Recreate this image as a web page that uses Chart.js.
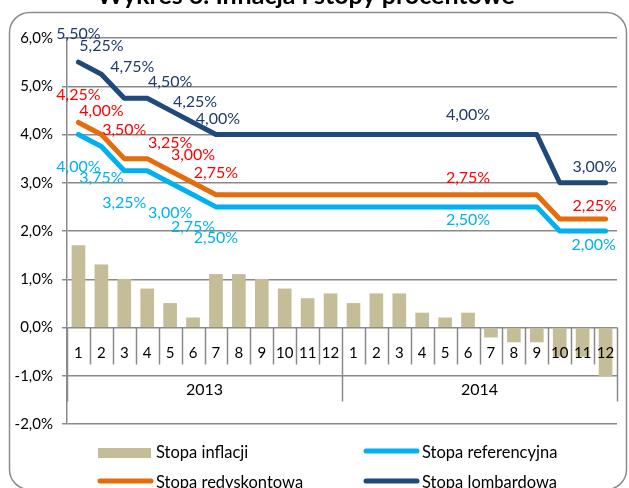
<!DOCTYPE html>
<html>
<head>
<meta charset="utf-8">
<script src="https://cdn.jsdelivr.net/npm/chart.js@4.4.1/dist/chart.umd.min.js"></script>
<style>
  html, body { margin: 0; padding: 0; background: #fff; }
  #wrap { position: relative; width: 629px; height: 488px; }
</style>
</head>
<body>
<div id="wrap"><canvas id="chart"></canvas></div>
<script>
// Data
const months = ['1','2','3','4','5','6','7','8','9','10','11','12',
                '1','2','3','4','5','6','7','8','9','10','11','12'];
const years = ['2013', '2014'];
const inflation = [1.7, 1.3, 1.0, 0.8, 0.5, 0.2, 1.1, 1.1, 1.0, 0.8, 0.6, 0.7,
                   0.5, 0.7, 0.7, 0.3, 0.2, 0.3, -0.2, -0.3, -0.3, -0.6, -0.6, -1.0];
const refRate = [4.00, 3.75, 3.25, 3.25, 3.00, 2.75, 2.50, 2.50, 2.50, 2.50, 2.50, 2.50,
                 2.50, 2.50, 2.50, 2.50, 2.50, 2.50, 2.50, 2.50, 2.50, 2.00, 2.00, 2.00];
const rediscRate = [4.25, 4.00, 3.50, 3.50, 3.25, 3.00, 2.75, 2.75, 2.75, 2.75, 2.75, 2.75,
                    2.75, 2.75, 2.75, 2.75, 2.75, 2.75, 2.75, 2.75, 2.75, 2.25, 2.25, 2.25];
const lombardRate = [5.50, 5.25, 4.75, 4.75, 4.50, 4.25, 4.00, 4.00, 4.00, 4.00, 4.00, 4.00,
                     4.00, 4.00, 4.00, 4.00, 4.00, 4.00, 4.00, 4.00, 4.00, 3.00, 3.00, 3.00];
const labelIdx = [0, 1, 2, 4, 5, 6, 17, 22];
const yTicks = [-2, -1, 0, 1, 2, 3, 4, 5, 6];
const titleText = 'Wykres 6. Inflacja i stopy procentowe';

const FONT = 'Lato, "Open Sans", sans-serif';
const GRID = '#8a8a8a';
const COLORS = {
  bar: '#C4BD97',
  ref: '#00B0F0',
  redisc: '#E46C0A',
  lombard: '#1F497D'
};

const fmt2 = v => v.toFixed(2).replace('.', ',') + '%';

// label offsets (layout only), one per entry of labelIdx
const LABEL_LAYOUT = {
  lombard: { color: '#1F3B6E', off: [[0,-28],[0,-28],[8,-31],[0,-29],[2,-21],[2,-16],[0,-20],[12,-16]] },
  redisc:  { color: '#FF0000', off: [[0,-28],[0,-24],[0,-29],[0,-28],[0,-28],[0,-22],[0,-17],[12,-13]] },
  ref:     { color: '#00B0F0', off: [[0,32],[0,31],[0,32],[0,30],[0,32],[0,31],[0,13],[11,14]] }
};

// frame + title
const framePlugin = {
  id: 'frame',
  beforeDraw(chart) {
    const ctx = chart.ctx;
    ctx.save();
    ctx.strokeStyle = '#8c8c8c';
    ctx.lineWidth = 1.5;
    ctx.beginPath();
    ctx.roundRect(9.5, 12.5, 617, 477, 20);
    ctx.stroke();
    ctx.font = 'bold 25px ' + FONT;
    ctx.fillStyle = '#000';
    ctx.textAlign = 'center';
    ctx.textBaseline = 'alphabetic';
    ctx.fillText(titleText, 306, 4);
    ctx.restore();
  }
};

// category axis drawn on the zero line, with year row below
const axisPlugin = {
  id: 'twoLevelAxis',
  afterDatasetsDraw(chart) {
    const ctx = chart.ctx;
    const x = chart.scales.x;
    const y = chart.scales.y;
    const area = chart.chartArea;
    const y0 = y.getPixelForValue(0);
    const step = (area.right - area.left) / months.length;
    ctx.save();
    ctx.strokeStyle = GRID;
    ctx.lineWidth = 1.5;
    for (let i = 0; i <= months.length; i++) {
      const bx = Math.round(area.left + i * step) + 0.5;
      const len = (i % 12 === 0) ? 74 : 37;
      ctx.beginPath();
      ctx.moveTo(bx, y0);
      ctx.lineTo(bx, y0 + len);
      ctx.stroke();
    }
    ctx.fillStyle = '#000';
    ctx.textAlign = 'center';
    ctx.textBaseline = 'middle';
    ctx.font = '15px ' + FONT;
    months.forEach((m, i) => {
      ctx.fillText(m, x.getPixelForValue(i), y0 + 26);
    });
    ctx.font = '16px ' + FONT;
    years.forEach((yr, k) => {
      const cx = area.left + (k * 12 + 6) * step;
      ctx.fillText(yr, cx, y0 + 62);
    });

    // data labels on the rate lines
    ctx.font = '16px ' + FONT;
    chart.data.datasets.forEach((ds, di) => {
      const lay = LABEL_LAYOUT[ds.key];
      if (!lay) return;
      const meta = chart.getDatasetMeta(di);
      ctx.fillStyle = lay.color;
      labelIdx.forEach((idx, k) => {
        const pt = meta.data[idx];
        const [dx, dy] = lay.off[k];
        ctx.fillText(fmt2(ds.data[idx]), pt.x + dx, pt.y + dy);
      });
    });
    ctx.restore();
  }
};

// legend in two columns
const legendPlugin = {
  id: 'legend2col',
  afterDraw(chart) {
    const ctx = chart.ctx;
    const items = [
      { text: 'Stopa inflacji', color: COLORS.bar, bar: true, x: 98, y: 453 },
      { text: 'Stopa referencyjna', color: COLORS.ref, x: 364, y: 453 },
      { text: 'Stopa redyskontowa', color: COLORS.redisc, x: 98, y: 483 },
      { text: 'Stopa lombardowa', color: COLORS.lombard, x: 364, y: 483 }
    ];
    ctx.save();
    ctx.font = '16.5px ' + FONT;
    ctx.textBaseline = 'middle';
    ctx.textAlign = 'left';
    items.forEach(it => {
      if (it.bar) {
        ctx.fillStyle = it.color;
        ctx.fillRect(it.x, it.y - 5, 53, 10);
      } else {
        ctx.strokeStyle = it.color;
        ctx.lineWidth = 5;
        ctx.lineCap = 'round';
        ctx.beginPath();
        ctx.moveTo(it.x + 2, it.y - 2);
        ctx.lineTo(it.x + 53, it.y - 2);
        ctx.stroke();
      }
      ctx.fillStyle = '#000';
      ctx.fillText(it.text, it.x + 58, it.y);
    });
    ctx.restore();
  }
};

const lineDs = (label, key, data, color, order) => ({
  type: 'line',
  label: label,
  key: key,
  data: data,
  borderColor: color,
  backgroundColor: color,
  borderWidth: 5,
  borderJoinStyle: 'round',
  borderCapStyle: 'round',
  pointRadius: 0,
  tension: 0,
  fill: false,
  order: order
});

new Chart(document.getElementById('chart'), {
  type: 'bar',
  data: {
    labels: months,
    datasets: [
      {
        type: 'bar',
        label: 'Stopa inflacji',
        data: inflation,
        backgroundColor: COLORS.bar,
        barThickness: 13,
        order: 4
      },
      lineDs('Stopa referencyjna', 'ref', refRate, COLORS.ref, 3),
      lineDs('Stopa redyskontowa', 'redisc', rediscRate, COLORS.redisc, 2),
      lineDs('Stopa lombardowa', 'lombard', lombardRate, COLORS.lombard, 1)
    ]
  },
  options: {
    responsive: true,
    maintainAspectRatio: false,
    animation: false,
    layout: { padding: { left: 0, right: 12, top: 38, bottom: 64 } },
    scales: {
      x: {
        type: 'category',
        display: false,
        offset: true
      },
      y: {
        min: -2,
        max: 6,
        afterFit(scale) { scale.width = 67; },
        afterBuildTicks(scale) { scale.ticks = yTicks.map(v => ({ value: v })); },
        ticks: {
          padding: 9,
          color: '#000',
          font: { family: FONT, size: 15 },
          callback: v => v.toFixed(1).replace('.', ',') + '%'
        },
        grid: { color: GRID, lineWidth: 1.5, tickLength: 5 },
        border: { color: GRID, width: 1.5 }
      }
    },
    plugins: {
      legend: { display: false },
      tooltip: { enabled: false }
    }
  },
  plugins: [framePlugin, axisPlugin, legendPlugin]
});
</script>
</body>
</html>
